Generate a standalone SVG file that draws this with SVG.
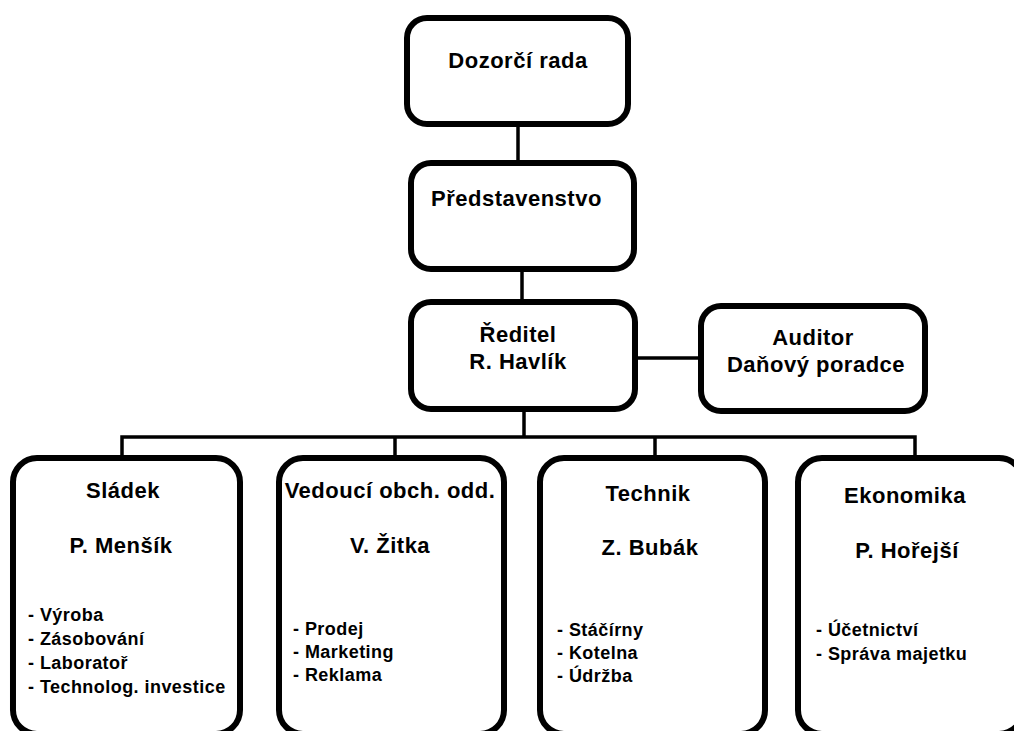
<svg xmlns="http://www.w3.org/2000/svg" width="1014" height="731" viewBox="0 0 1014 731">
<style>
.box{fill:#fff;stroke:#000;stroke-width:6}
.con{stroke:#000;stroke-width:3.5;fill:none}
text{font-family:"Liberation Sans",Arial,sans-serif;font-weight:bold;fill:#000}
.h{font-size:22px;letter-spacing:0.5px}
.c{text-anchor:middle}
.l{font-size:18px;letter-spacing:0.45px}
</style>
<rect width="1014" height="731" fill="#fff"/>
<g id="connectors">
<line class="con" x1="518" y1="127" x2="518" y2="160"/>
<line class="con" x1="522" y1="272" x2="522" y2="300"/>
<line class="con" x1="638" y1="358" x2="698" y2="358"/>
<line class="con" x1="524" y1="412" x2="524" y2="437"/>
<polyline class="con" points="122,456 122,437 915,437 915,456"/>
<line class="con" x1="395" y1="437" x2="395" y2="456"/>
<line class="con" x1="655" y1="437" x2="655" y2="456"/>
</g>
<g id="dozorci">
<rect class="box" x="407" y="18" width="221" height="106" rx="20"/>
<text class="h c" x="518" y="68">Dozorčí rada</text>
</g>
<g id="predstavenstvo">
<rect class="box" x="411" y="163" width="223" height="106" rx="20"/>
<text class="h" x="431" y="206">Představenstvo</text>
</g>
<g id="reditel">
<rect class="box" x="411" y="302" width="224" height="107" rx="20"/>
<text class="h c" x="518" y="342">Ředitel</text>
<text class="h c" x="518" y="369">R. Havlík</text>
</g>
<g id="auditor">
<rect class="box" x="701" y="306" width="224" height="105" rx="20"/>
<text class="h c" x="813" y="345">Auditor</text>
<text class="h c" x="816" y="372">Daňový poradce</text>
</g>
<g id="sladek">
<rect class="box" x="13" y="458" width="227" height="276" rx="24"/>
<text class="h c" x="123" y="498">Sládek</text>
<text class="h c" x="121" y="553">P. Menšík</text>
<text class="l" x="28" y="621">- Výroba</text>
<text class="l" x="28" y="645">- Zásobování</text>
<text class="l" x="28" y="669">- Laboratoř</text>
<text class="l" x="28" y="693">- Technolog. investice</text>
</g>
<g id="vedouci">
<rect class="box" x="279" y="458" width="225" height="276" rx="24"/>
<text class="h c" x="390" y="498">Vedoucí obch. odd.</text>
<text class="h c" x="390" y="553">V. Žitka</text>
<text class="l" x="293" y="635">- Prodej</text>
<text class="l" x="293" y="658">- Marketing</text>
<text class="l" x="293" y="681">- Reklama</text>
</g>
<g id="technik">
<rect class="box" x="540" y="458" width="225" height="276" rx="24"/>
<text class="h c" x="648" y="501">Technik</text>
<text class="h c" x="650" y="555">Z. Bubák</text>
<text class="l" x="557" y="636">-  Stáčírny</text>
<text class="l" x="557" y="659">- Kotelna</text>
<text class="l" x="557" y="682">- Údržba</text>
</g>
<g id="ekonomika">
<rect class="box" x="798" y="458" width="225" height="276" rx="24"/>
<text class="h c" x="905" y="503">Ekonomika</text>
<text class="h c" x="907" y="558">P. Hořejší</text>
<text class="l" x="816" y="636">- Účetnictví</text>
<text class="l" x="816" y="660">- Správa majetku</text>
</g>
</svg>
